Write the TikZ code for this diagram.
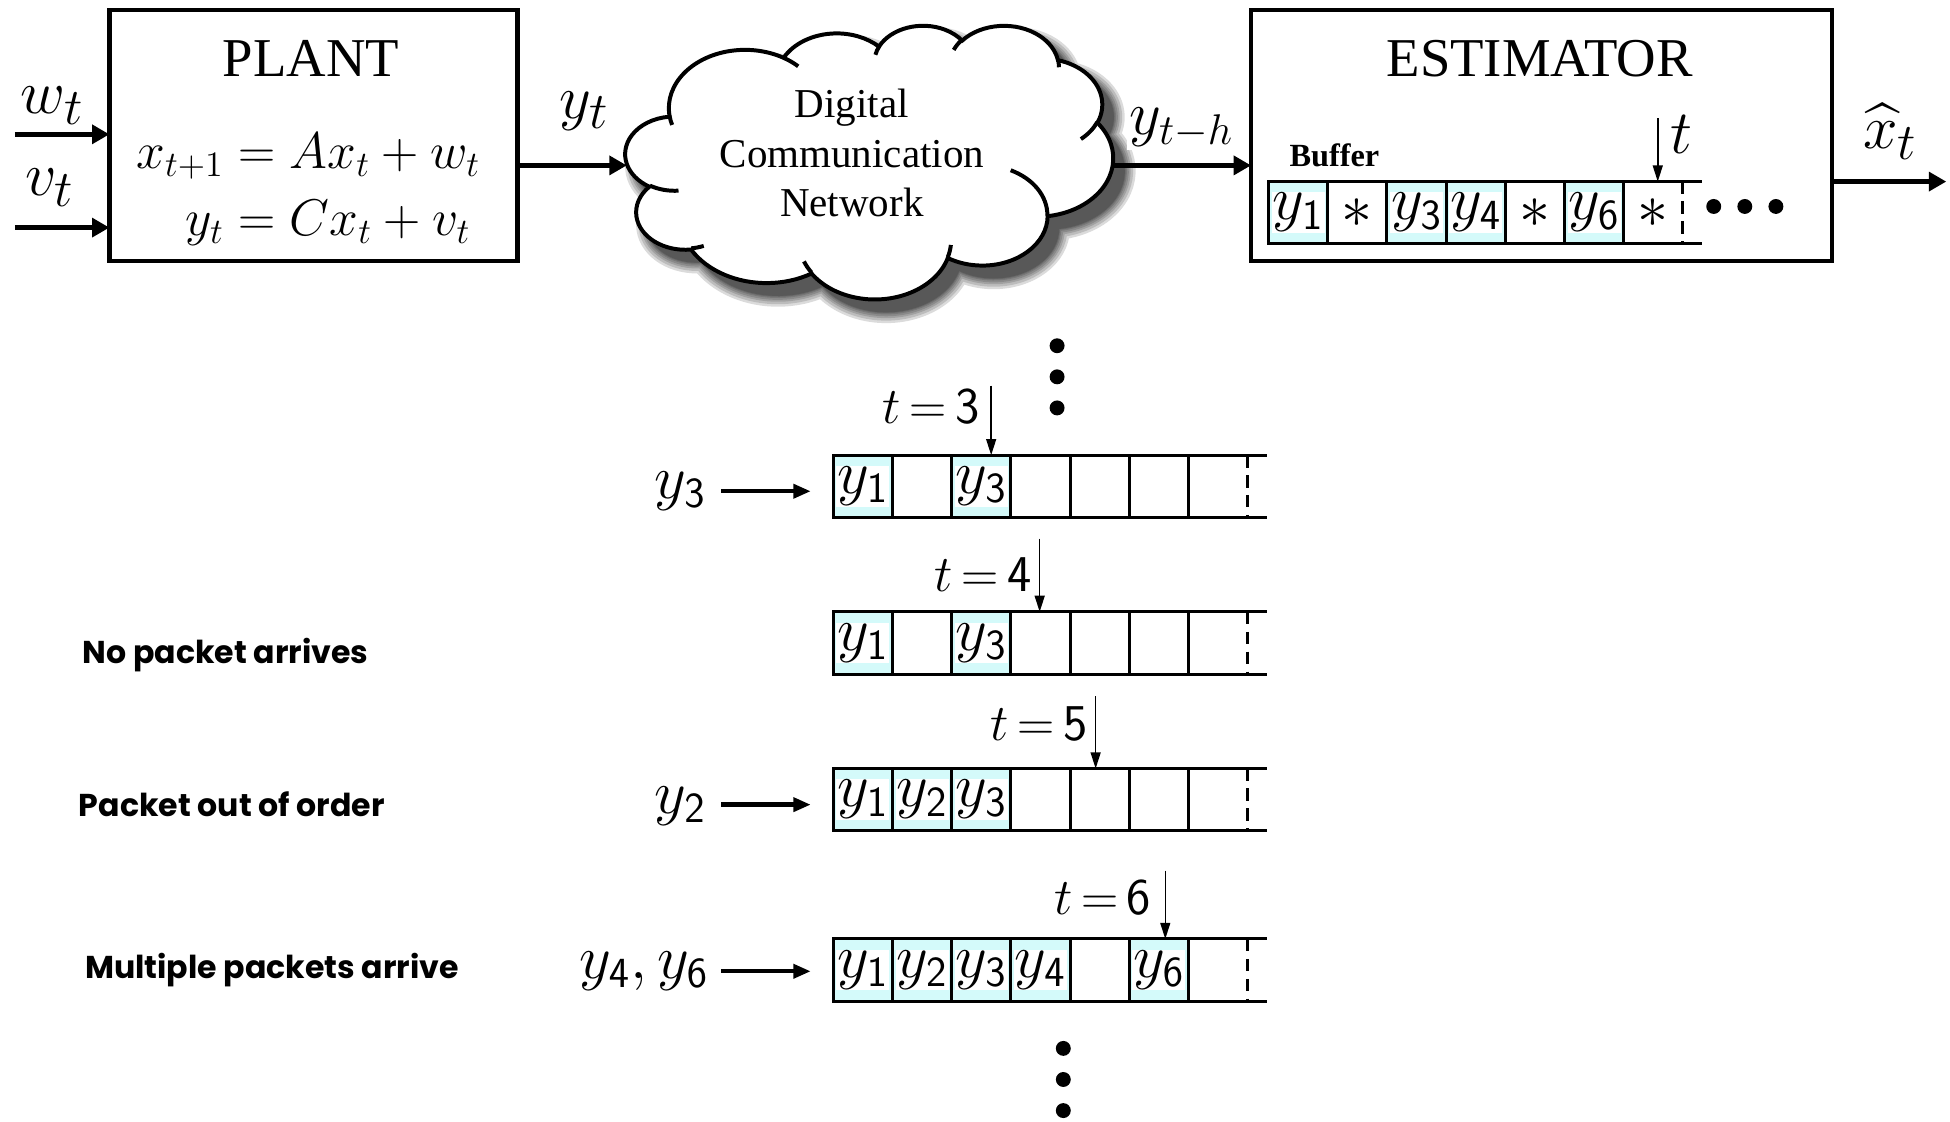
\documentclass[tikz,border=0pt]{standalone}
\usepackage{amsmath}
\usepackage[no-math]{fontspec}
\newfontfamily\tnr{Liberation Serif}
\newfontfamily\comic{Poppins}
\usetikzlibrary{arrows.meta}
\definecolor{cellcyan}{HTML}{D4FAFA}

\newcommand\fs[2]{\fontsize{#1}{#2}\selectfont}

% scale of the cloud outline: 432 x 432 box units -> 392 x 220 px (0.5pt per px)
\def\cldsx{0.453704}
\def\cldsy{0.254630}

% one elliptical bump of the cloud outline:
% #1 name, #2 x radius, #3 y radius, #4 start angle, #5 sweep (visual angles, y down)
\newcommand\cldarc[5]{%
  \pgfmathsetmacro\cldtmpa{atan2((#2)*sin(#4),(#3)*cos(#4))}%
  \pgfmathsetmacro\cldtmpb{atan2((#2)*sin((#4)+(#5)),(#3)*cos((#4)+(#5)))}%
  \pgfmathsetmacro\cldtmpd{\cldtmpb-\cldtmpa}%
  \pgfmathsetmacro\cldtmpd{\cldtmpd+360*and(#5>0,\cldtmpd<0)-360*and(#5<0,\cldtmpd>0)}%
  \pgfmathsetmacro\cldtmps{0-(\cldtmpa)}%
  \pgfmathsetmacro\cldtmpd{0-(\cldtmpd)}%
  \pgfmathsetmacro\cldtmpx{(#2)*\cldsx}%
  \pgfmathsetmacro\cldtmpy{(#3)*\cldsy}%
  \expandafter\xdef\csname clds#1\endcsname{\cldtmps}%
  \expandafter\xdef\csname cldd#1\endcsname{\cldtmpd}%
  \expandafter\xdef\csname cldx#1\endcsname{\cldtmpx}%
  \expandafter\xdef\csname cldy#1\endcsname{\cldtmpy}%
}
\newcommand\bump[1]{arc[start angle=\csname clds#1\endcsname, delta angle=\csname cldd#1\endcsname,
  x radius=\csname cldx#1\endcsname pt, y radius=\csname cldy#1\endcsname pt]}

\newcommand\cloudpath[1]{%
  \path[#1] (39,143.7) \bump{A} \bump{B} \bump{C} \bump{D} \bump{E} \bump{F}
    \bump{G} \bump{H} \bump{I} \bump{J} \bump{K} -- cycle;}

% a row of buffer cells: #1 name, #2 left x, #3 top y, #4 fill/label list
\newcommand\bufrow[4]{%
  \foreach[count=\i] \sh/\lab in {#4}{%
    \pgfmathsetmacro\xc{#2+(\i-0.5)*47.6}%
    \ifnum\i<7
      \node[cellbox, fill=\sh] (#1-\i) at (\xc,#3+25) {};
    \else
      \coordinate (#1-\i) at (\xc,#3+25);
    \fi
    \node[celllab] (#1-\i-t) at (#1-\i) {\lab};
  }
  \draw[bufline] (#1-6.north east) -- ++(63,0);
  \draw[bufline] (#1-6.south east) -- ++(63,0);
  \draw[bufline, dashpat] ([xshift=23.8pt]#1-6.north east) -- ([xshift=23.8pt]#1-6.south east);
}

\tikzset{
  blockbox/.style={draw, line width=1.75pt, minimum height=101pt, inner sep=0pt, outer sep=0pt},
  bigarrow/.style={line width=2pt, -{Triangle[length=7pt,width=7.5pt]}},
  feedarrow/.style={line width=1.75pt, -{Triangle[length=7pt,width=5.5pt]}},
  ptrarrow/.style={line width=0.6pt, -{Triangle[length=6.5pt,width=4pt]}},
  bufline/.style={line width=1.2pt},
  dashpat/.style={dash pattern=on 5pt off 3pt},
  cellbox/.style={draw, line width=1.2pt, minimum width=23.8pt, minimum height=25pt,
    inner sep=0pt, outer sep=0pt},
  celllab/.style={fill=white, inner sep=0.4pt, font=\fs{23}{25}},
  dot/.style={circle, fill=black, inner sep=0pt, minimum size=6pt},
  note/.style={font=\comic\bfseries\fs{12.7}{15}, anchor=west, inner sep=0pt},
  bigmath/.style={font=\fs{31}{34}, inner sep=0pt},
  inlab/.style={font=\fs{23}{26}, anchor=east, inner sep=0pt},
  ptrlab/.style={font=\fs{22.5}{25}, anchor=east, inner sep=0pt},
  title/.style={font=\tnr\fs{22}{26}, inner sep=0pt},
}

\begin{document}
\begin{tikzpicture}[x=0.5pt, y=-0.5pt]
\useasboundingbox (0,0) rectangle (1568,902);

% ---- cloud bump geometry ----
\cldarc{A}{67.53}{91.90}{-190.48748}{123.78053}
\cldarc{B}{53.33}{72.67}{-144.10238}{89.94523}
\cldarc{C}{43.65}{59.45}{-145.80792}{99.72302}
\cldarc{D}{48.57}{65.95}{-130.98607}{117.24173}
\cldarc{E}{53.33}{72.73}{-78.70888}{109.02692}
\cldarc{F}{67.75}{92.20}{-46.26725}{130.269}
\cldarc{G}{57.85}{78.67}{0.62502}{114.03333}
\cldarc{H}{67.52}{92.15}{22.4516}{115.17255}
\cldarc{I}{77.20}{105.43}{66.24263}{75.71102}
\cldarc{J}{43.60}{59.18}{-274.94208}{146.73557}
\cldarc{K}{43.45}{59.45}{-246.8285}{152.51885}
\cldarc{a}{43.45}{59.45}{86.742}{26.4295}
\cldarc{b}{43.60}{59.18}{73.6105}{11.4475}
\cldarc{c}{67.52}{92.15}{137.62415}{14.0811}
\cldarc{d}{67.52}{92.15}{6.45327}{15.99835}
\cldarc{e}{57.85}{78.67}{-70.29235}{70.91737}
\cldarc{f}{53.33}{72.73}{30.31803}{27.7515}
\cldarc{g}{48.57}{65.95}{-13.74433}{14.8589}
\cldarc{h}{48.57}{65.95}{-149.18145}{18.19537}
\cldarc{i}{43.65}{59.45}{-163.49427}{17.68635}
\cldarc{j}{67.53}{91.90}{-66.70695}{12.31935}
\cldarc{k}{67.53}{91.90}{157.65435}{11.85817}

% ---- soft shadow of the cloud ----
\foreach \w in {9,7,5,3.5,2,1,0.3}{
  \begin{scope}[transparency group, opacity=0.14]
    \begin{scope}[shift={(512,30)}, x=0.453704pt, y=-0.254630pt]
      \cloudpath{fill=black, draw=black, line width=\w pt, line join=round}
    \end{scope}
  \end{scope}
}

% ---- cloud ----
\begin{scope}[shift={(503,20)}, x=0.453704pt, y=-0.254630pt]
  \cloudpath{fill=white, draw=black, line width=1.6pt}
  \draw[line width=1.6pt]
    (46.93,261.77) \bump{a}
    (69.28,348.99) \bump{b}
    (164.78,390.90) \bump{c}
    (288.27,347.51) \bump{d}
    (341.29,229.54) \bump{e}
    (417.98,153.54) \bump{f}
    (383.24,54.26) \bump{g}
    (290.78,39.52) \bump{h}
    (221.41,47.20) \bump{i}
    (140.00,51.92) \bump{j}
    (41.27,157.89) \bump{k};
\end{scope}
\node[font=\tnr\fs{16.5}{20}, align=center, inner sep=0pt] (net) at (685,123)
  {Digital\\Communication\\Network};
\coordinate (cloudW) at (504,133);
\coordinate (cloudE) at (894,133);

% ---- plant ----
\node[blockbox, minimum width=164pt] (plant) at (252,109) {};
\node[title] (plantT) at (250,47) {PLANT};
\node[font=\fs{20}{24}, inner sep=0pt] (eqs) at (248,153)
  {$\begin{aligned} x_{t+1} &= Ax_t + w_t\\ y_t &= Cx_t + v_t\end{aligned}$};

\coordinate (wsrc) at (12,108);
\coordinate (vsrc) at (12,183);
\draw[bigarrow] (wsrc) -- (wsrc -| plant.west);
\draw[bigarrow] (vsrc) -- (vsrc -| plant.west);
\node[bigmath] (wlab) at (42,85) {$w_t$};
\node[bigmath] (vlab) at (40,151) {$v_t$};

\draw[bigarrow] (plant.east |- cloudW) -- (cloudW);
\node[font=\fs{32}{34}, inner sep=0pt] (ylab) at (470,89) {$y_t$};

% ---- estimator ----
\node[blockbox, minimum width=233.5pt] (est) at (1239.5,109) {};
\node[title] (estT) at (1238,47) {ESTIMATOR};
\draw[bigarrow] (cloudE) -- (cloudE -| est.west);
\node[font=\fs{27}{30}, fill=white, inner sep=1pt] (yhlab) at (950,103) {$y_{t-h}$};
\node[font=\tnr\bfseries\fs{13}{15}, inner sep=0pt] (buf) at (1073,125) {Buffer};

\bufrow{e}{1020}{146}{cellcyan/$y_{\mathsf{1}}$, white/$*$, cellcyan/$y_{\mathsf{3}}$,
  cellcyan/$y_{\mathsf{4}}$, white/$*$, cellcyan/$y_{\mathsf{6}}$, white/$*$}
\coordinate (etop) at (1333,95);
\draw[ptrarrow] (etop) -- (etop |- e-6.north);
\node[font=\fs{23}{25}, inner sep=0pt] (tlab) at (1352,108) {$t$};
\node[dot] (ed1) at (1378,166) {};
\node[dot] (ed2) at (1403,166) {};
\node[dot] (ed3) at (1428,166) {};

\coordinate (xout) at (1565,146);
\draw[bigarrow] (est.east |- xout) -- (xout);
\node[font=\fs{32}{34}, inner sep=0pt] (xlab) at (1520,106) {$\widehat{x}_t$};

% ---- buffer snapshots ----
\node[dot] (vd1) at (850,278) {};
\node[dot] (vd2) at (850,303) {};
\node[dot] (vd3) at (850,328) {};

\bufrow{ra}{670}{366}{cellcyan/$y_{\mathsf{1}}$, white/{}, cellcyan/$y_{\mathsf{3}}$,
  white/{}, white/{}, white/{}, white/{}}
\bufrow{rb}{670}{492}{cellcyan/$y_{\mathsf{1}}$, white/{}, cellcyan/$y_{\mathsf{3}}$,
  white/{}, white/{}, white/{}, white/{}}
\bufrow{rc}{670}{618}{cellcyan/$y_{\mathsf{1}}$, cellcyan/$y_{\mathsf{2}}$, cellcyan/$y_{\mathsf{3}}$,
  white/{}, white/{}, white/{}, white/{}}
\bufrow{rd}{670}{755}{cellcyan/$y_{\mathsf{1}}$, cellcyan/$y_{\mathsf{2}}$, cellcyan/$y_{\mathsf{3}}$,
  cellcyan/$y_{\mathsf{4}}$, white/{}, cellcyan/$y_{\mathsf{6}}$, white/{}}

% time pointers
\coordinate (pa) at (797,310);
\coordinate (pb) at (836,433);
\coordinate (pc) at (881,560);
\coordinate (pd) at (937,700);
\draw[ptrarrow] (pa) -- (pa |- ra-1.north);
\draw[ptrarrow] (pb) -- (pb |- rb-1.north);
\draw[ptrarrow] (pc) -- (pc |- rc-1.north);
\draw[ptrarrow] (pd) -- (pd |- rd-1.north);
\node[ptrlab] (ta) at (788,327) {$t\,{=}\,\mathsf{3}$};
\node[ptrlab] (tb) at (830,462) {$t\,{=}\,\mathsf{4}$};
\node[ptrlab] (tc) at (875,582) {$t\,{=}\,\mathsf{5}$};
\node[ptrlab] (td) at (926,722) {$t\,{=}\,\mathsf{6}$};

% arriving packets
\node[inlab] (ina) at (568,395) {$y_{\mathsf{3}}$};
\node[inlab] (inc) at (568,648) {$y_{\mathsf{2}}$};
\node[inlab] (ind) at (570,781) {$y_{\mathsf{4}}, y_{\mathsf{6}}$};
\coordinate (ea) at (652,395);
\coordinate (ec) at (652,647);
\coordinate (ed) at (652,781);
\draw[feedarrow] ([xshift=6pt]ina.east |- ea) -- (ea);
\draw[feedarrow] ([xshift=6pt]inc.east |- ec) -- (ec);
\draw[feedarrow] ([xshift=5pt]ind.east |- ed) -- (ed);

% event notes
\node[note] (nb) at (66,527) {No packet arrives};
\node[note] (nc) at (63,647) {Packet out of order};
\node[note] (nd) at (68,780) {Multiple packets arrive};

\node[dot] (bd1) at (855,843) {};
\node[dot] (bd2) at (855,868) {};
\node[dot] (bd3) at (855,893) {};
\end{tikzpicture}
\end{document}
